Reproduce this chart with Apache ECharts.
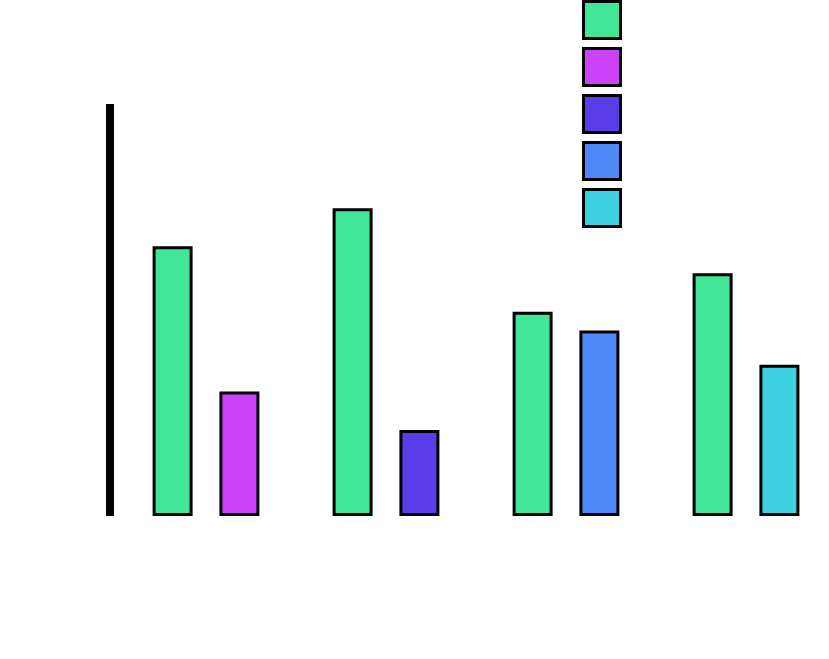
<!DOCTYPE html>
<html>
<head>
<meta charset="utf-8">
<script src="https://cdn.jsdelivr.net/npm/echarts@6/dist/echarts.min.js"></script>
<style>html,body{margin:0;padding:0;background:#fff}#c{width:829px;height:659px}</style>
</head>
<body>
<div id="c"></div>
<script>
var categories = ['A', 'B', 'C', 'D'];
var seriesNames = ['S1', 'S2', 'S3', 'S4', 'S5'];
var greenValues = [65.5, 74.7, 49.6, 58.9];
var purpleValues = [30.2, null, null, null];
var indigoValues = [null, 20.9, null, null];
var blueValues = [null, null, 45.0, null];
var cyanValues = [null, null, null, 36.7];
var colors = ['#42e699', '#cc42fa', '#5a3ce8', '#4d8af8', '#3dd1e3'];

var chart = echarts.init(document.getElementById('c'), null, {renderer: 'canvas'});
function bar(name, data, color, stack) {
  var s = {
    name: name, type: 'bar', data: data, barWidth: 40, clip: false,
    itemStyle: {color: color, borderColor: '#000', borderWidth: 3},
    emphasis: {disabled: true}
  };
  if (stack) s.stack = stack;
  return s;
}
chart.setOption({
  animation: false,
  backgroundColor: '#fff',
  grid: {left: 206, width: 540, top: 104, bottom: 143},
  legend: {
    orient: 'vertical', left: 582, top: 0, padding: 0,
    itemWidth: 37, itemHeight: 37, itemGap: 7,
    icon: 'rect', formatter: function () { return ''; },
    itemStyle: {borderColor: '#000', borderWidth: 3},
    textStyle: {fontSize: 1},
    data: seriesNames
  },
  xAxis: {
    type: 'category', data: categories, boundaryGap: false,
    axisLine: {show: false}, axisTick: {show: false}, axisLabel: {show: false}
  },
  yAxis: {
    type: 'value', min: 0, max: 100, offset: 96,
    axisLine: {show: true, lineStyle: {color: '#000', width: 8, cap: 'butt'}},
    axisTick: {show: false}, axisLabel: {show: false}, splitLine: {show: false}
  },
  series: [
    Object.assign(bar(seriesNames[0], greenValues, colors[0]), {barGap: '67%'}),
    bar(seriesNames[1], purpleValues, colors[1], 'o'),
    bar(seriesNames[2], indigoValues, colors[2], 'o'),
    bar(seriesNames[3], blueValues, colors[3], 'o'),
    bar(seriesNames[4], cyanValues, colors[4], 'o')
  ]
});
</script>
</body>
</html>
